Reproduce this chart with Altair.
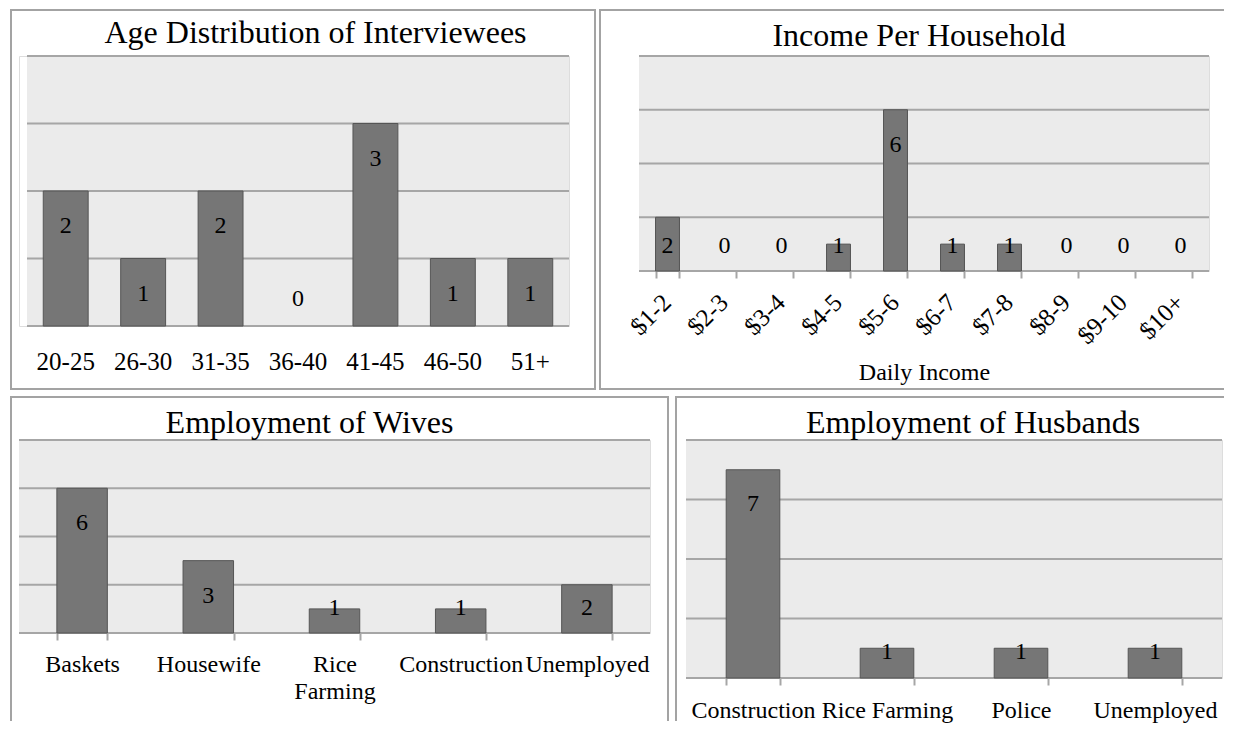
import altair as alt
import pandas as pd

# ---------------- data ----------------
age_groups = ["20-25", "26-30", "31-35", "36-40", "41-45", "46-50", "51+"]
age_counts = [2, 1, 2, 0, 3, 1, 1]

income_bins = ["$1-2", "$2-3", "$3-4", "$4-5", "$5-6", "$6-7", "$7-8", "$8-9", "$9-10", "$10+"]
income_counts = [2, 0, 0, 1, 6, 1, 1, 0, 0, 0]

wife_jobs = ["Baskets", "Housewife", "Rice Farming", "Construction", "Unemployed"]
wife_counts = [6, 3, 1, 1, 2]

husband_jobs = ["Construction", "Rice Farming", "Police", "Unemployed"]
husband_counts = [7, 1, 1, 1]

# ---------------- style ----------------
FONT = "Liberation Serif"
GRID = "#a6a6a6"
FRAME = "#a3a3a3"
BAR = "#767676"
BAR_EDGE = "#555555"
BG = "#ebebeb"

one = pd.DataFrame({"k": [0]})


def frame_layers(x0, x1, y0, y1, sides):
    rl = dict(stroke=FRAME, strokeWidth=2)
    out = []
    if "l" in sides:
        out.append(alt.Chart(one).mark_rule(**rl).encode(
            x=alt.value(x0), y=alt.value(y0), y2=alt.value(y1)))
    if "r" in sides:
        out.append(alt.Chart(one).mark_rule(**rl).encode(
            x=alt.value(x1), y=alt.value(y0), y2=alt.value(y1)))
    if "t" in sides:
        out.append(alt.Chart(one).mark_rule(**rl).encode(
            x=alt.value(x0 - 1), x2=alt.value(x1 + 1), y=alt.value(y0)))
    if "b" in sides:
        out.append(alt.Chart(one).mark_rule(**rl).encode(
            x=alt.value(x0 - 1), x2=alt.value(x1 + 1), y=alt.value(y1)))
    return out


def panel(cats, vals, title, w, h, ymax, ystep, pinner, a, b, xaxis, xtitle,
          tx, ty, frame, sides, inset=0):
    """inset > 0: the grey plot area starts `inset` px right of the view's left edge."""
    df = pd.DataFrame({"cat": cats, "v": vals})
    base = alt.Chart(df)
    grid_vals = list(range(0, ymax + 1, ystep))
    xs = alt.Scale(paddingInner=pinner, paddingOuter=pinner / 2, range=[inset, w])
    x = alt.X("cat:N", sort=cats, scale=xs, axis=xaxis, title=xtitle)
    y = alt.Y("v:Q", scale=alt.Scale(domain=[0, ymax]), axis=None, title=None)

    # grey plot background and horizontal gridlines
    bg = alt.Chart(one).mark_rect(color=BG).encode(
        x=alt.value(inset), x2=alt.value(w), y=alt.value(0), y2=alt.value(h))
    grid = alt.Chart(pd.DataFrame({"g": grid_vals})).mark_rule(
        color=GRID, strokeWidth=2).encode(
        x=alt.value(inset), x2=alt.value(w), y=alt.Y("g:Q", title=None))

    bars = base.transform_filter("datum.v > 0").mark_bar(
        color=BAR, stroke=BAR_EDGE, strokeWidth=1).encode(x=x, y=y)
    labels = base.transform_calculate(lab=f"max(datum.v - {a}, {b})").mark_text(
        font=FONT, fontSize=24, color="black", baseline="middle", align="center"
    ).encode(
        x=alt.X("cat:N", sort=cats, title=xtitle),
        y=alt.Y("lab:Q", title=None),
        text="v:Q",
    )
    ttl = alt.Chart(one).mark_text(
        text=title, font=FONT, fontSize=32, color="black", baseline="alphabetic", align="center"
    ).encode(x=alt.value(tx), y=alt.value(ty))
    layers = [bg, grid, bars, labels, ttl] + frame_layers(*frame, sides)
    return alt.layer(*layers).properties(width=w, height=h)


# ---------------- axes ----------------
ax1 = alt.Axis(labelFont=FONT, labelFontSize=25, labelColor="black", labelAngle=0,
               labelPadding=23, ticks=False, tickSize=0, domain=False, grid=False,
               labelOverlap=False)

tick_common = dict(ticks=True, tickBand="extent", tickSize=7, tickColor=GRID, tickWidth=2,
                   domain=False, grid=False, labelFont=FONT, labelColor="black",
                   labelOverlap=False)

ax2 = alt.Axis(labelFontSize=25, labelAngle=-45, labelAlign="right", labelBaseline="middle",
               labelPadding=20, labelOffset=-1, titleFont=FONT, titleFontSize=24,
               titleFontWeight="normal", titleColor="black", titleY=108,
               titleBaseline="alphabetic", **tick_common)

ax3 = alt.Axis(labelFontSize=24, labelAngle=0, labelPadding=12, labelLineHeight=27,
               labelExpr="datum.label == 'Rice Farming' ? ['Rice', 'Farming'] : datum.label",
               **tick_common)

ax4 = alt.Axis(labelFontSize=24, labelAngle=0, labelPadding=13, **tick_common)

# ---------------- panels ----------------
# P1 view spans page x 17..567, plot area inset by 8 px (page x 25..567)
p1 = panel(age_groups, age_counts, "Age Distribution of Interviewees", 550, 270, 4, 1, 0.42,
           0.52, 0.4, ax1, None, 296.5, -13, (-8, 576, -46, 333), "lrtb", inset=8)
p2 = panel(income_bins, income_counts, "Income Per Household", 570, 215, 8, 2, 0.58,
           1.3, 0.93, ax2, "Daily Income", 280, -10, (-39, 584, -46, 333), "ltb")
p3 = panel(wife_jobs, wife_counts, "Employment of Wives", 631, 193, 8, 2, 0.6,
           1.45, 1.04, ax3, None, 290.5, -7, (-8, 649, -43, 281), "lrt")
p4 = panel(husband_jobs, husband_counts, "Employment of Husbands", 536, 238, 8, 2, 0.6,
           1.14, 0.87, ax4, None, 287, -7, (-10, 537, -43, 281), "lt")

top = alt.hconcat(p1, p2, spacing=70, bounds="flush")
bottom = alt.hconcat(p3, p4, spacing=36, bounds="flush")

chart = alt.vconcat(top, bottom, spacing=4).properties(
    padding=0
).configure_view(fill="white", strokeWidth=0).configure(background="white")

chart.save("out.html", embed_options={"renderer": "svg", "actions": False})
